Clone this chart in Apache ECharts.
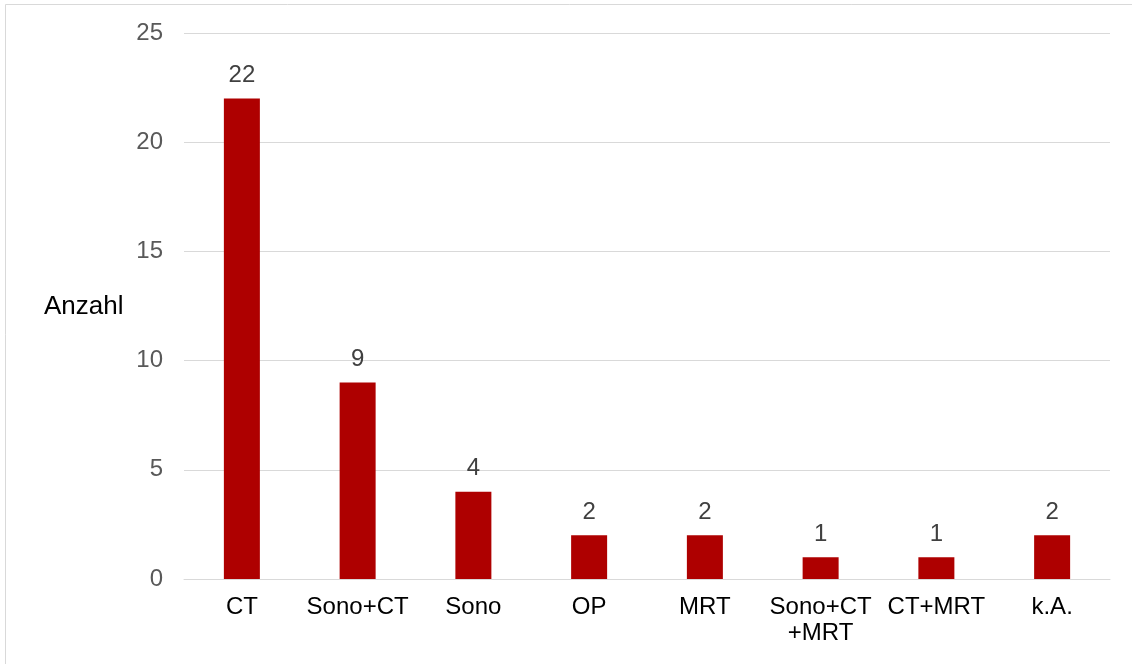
<!DOCTYPE html>
<html>
<head>
<meta charset="utf-8">
<style>
  html, body { margin: 0; padding: 0; background: #ffffff; }
  #chart { width: 1132px; height: 664px; }
</style>
<script src="https://cdn.jsdelivr.net/npm/echarts@6/dist/echarts.min.js"></script>
</head>
<body>
<div id="chart"></div>
<script>
// Bildgebende Verfahren und ihre Anzahl
const categories = ['CT', 'Sono+CT', 'Sono', 'OP', 'MRT', 'Sono+CT\n+MRT', 'CT+MRT', 'k.A.'];
const counts = [22, 9, 4, 2, 2, 1, 1, 2];
const yTicks = { min: 0, max: 25, interval: 5 };
const yAxisTitle = 'Anzahl';

const FONT = 'Liberation Sans, Arial, sans-serif';

const chart = echarts.init(document.getElementById('chart'), null, { renderer: 'canvas' });

chart.setOption({
  animation: false,
  backgroundColor: '#ffffff',
  grid: { left: 184, right: 22, top: 33, bottom: 85, containLabel: false },
  graphic: [
    {
      type: 'rect',
      shape: { x: 5.5, y: 4.5, width: 1200, height: 800 },
      style: { fill: 'none', stroke: '#d9d9d9', lineWidth: 1 },
      silent: true
    },
    {
      type: 'text',
      x: 44,
      y: 307,
      style: {
        text: yAxisTitle,
        fill: '#000000',
        font: '26px ' + FONT,
        verticalAlign: 'middle',
        align: 'left'
      }
    }
  ],
  xAxis: {
    type: 'category',
    data: categories,
    axisLine: { show: true, lineStyle: { color: '#d9d9d9', width: 1 } },
    axisTick: { show: false },
    axisLabel: {
      color: '#000000',
      fontFamily: FONT,
      fontSize: 24,
      margin: 15,
      lineHeight: 26,
      interval: 0
    }
  },
  yAxis: {
    type: 'value',
    min: yTicks.min,
    max: yTicks.max,
    interval: yTicks.interval,
    axisLine: { show: false },
    axisTick: { show: false },
    splitLine: { lineStyle: { color: '#d9d9d9', width: 1 } },
    axisLabel: {
      color: '#595959',
      fontFamily: FONT,
      fontSize: 24,
      margin: 21
    }
  },
  series: [
    {
      type: 'bar',
      data: counts,
      barWidth: 36,
      itemStyle: { color: '#ae0000' },
      label: {
        show: true,
        position: 'top',
        distance: 11,
        color: '#404040',
        fontFamily: FONT,
        fontSize: 24
      }
    }
  ]
});
</script>
</body>
</html>
